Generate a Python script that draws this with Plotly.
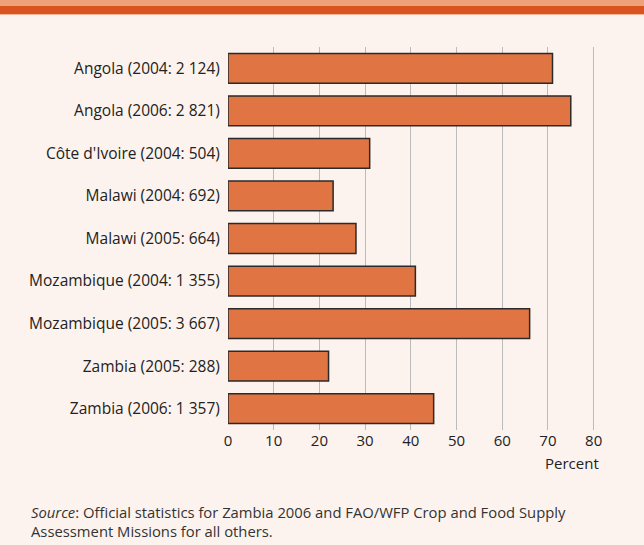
import plotly.graph_objects as go

categories = [
    "Angola (2004: 2 124)",
    "Angola (2006: 2 821)",
    "Côte d'Ivoire (2004: 504)",
    "Malawi (2004: 692)",
    "Malawi (2005: 664)",
    "Mozambique (2004: 1 355)",
    "Mozambique (2005: 3 667)",
    "Zambia (2005: 288)",
    "Zambia (2006: 1 357)",
]
values = [71, 75, 31, 23, 28, 41, 66, 22, 45]
x_ticks = [0, 10, 20, 30, 40, 50, 60, 70, 80]

W, H = 644, 545
L, R, T, B = 228, 49, 47, 115
plot_h = H - T - B
plot_w = W - L - R


def py(y_px):
    return 1 - (y_px - T) / plot_h


def px(x_px):
    return (x_px - L) / plot_w


BG = "#FDF3EE"
BAR = "#E07442"
FONT = "Open Sans, Noto Sans, sans-serif"
FS = 15.5

fig = go.Figure(
    go.Bar(
        x=values,
        y=categories,
        orientation="h",
        width=0.70,
        marker=dict(color=BAR, line=dict(color="#2a2a2a", width=1.5)),
    )
)

fig.update_layout(
    width=W,
    height=H,
    margin=dict(l=L, r=R, t=T, b=B),
    paper_bgcolor=BG,
    plot_bgcolor=BG,
    showlegend=False,
    font=dict(family=FONT, size=FS, color="#222222"),
)

fig.update_xaxes(
    range=[0, 80.3],
    tickvals=x_ticks,
    showgrid=True,
    gridcolor="#bbbbbb",
    gridwidth=1.3,
    zeroline=False,
    showline=False,
    ticks="",
    tickfont=dict(size=15),
    fixedrange=True,
)
fig.update_yaxes(
    categoryorder="array",
    categoryarray=categories[::-1],
    range=[-0.5, 8.5],
    showgrid=False,
    zeroline=False,
    showline=False,
    ticks="outside",
    ticklen=4,
    tickcolor=BG,
    fixedrange=True,
)

shapes = [
    dict(type="rect", xref="paper", yref="paper", x0=px(0), x1=px(W),
         y0=py(6), y1=py(0), fillcolor="#EEA27A", line=dict(width=0)),
    dict(type="rect", xref="paper", yref="paper", x0=px(0), x1=px(W),
         y0=py(14), y1=py(6), fillcolor="#D9541E", line=dict(width=0)),
    dict(type="rect", xref="paper", yref="paper", x0=px(0), x1=px(W),
         y0=py(15), y1=py(14), fillcolor="#F2B79A", line=dict(width=0)),
]

annotations = [
    dict(text="Percent", xref="paper", yref="paper", x=px(601), y=py(463),
         xanchor="right", yanchor="middle", showarrow=False,
         font=dict(size=15, color="#222222")),
    dict(text="<i>Source</i>: Official statistics for Zambia 2006 and FAO/WFP Crop and Food Supply"
              "<br>Assessment Missions for all others.",
         xref="paper", yref="paper", x=px(29), y=py(521),
         xanchor="left", yanchor="middle", align="left", showarrow=False,
         font=dict(size=14.8, color="#333333")),
]
fig.update_layout(shapes=shapes, annotations=annotations)

fig.write_html(
    "out.html",
    config={"displayModeBar": False},
    post_script="document.body.style.margin='0px';document.body.style.padding='0px';",
)
